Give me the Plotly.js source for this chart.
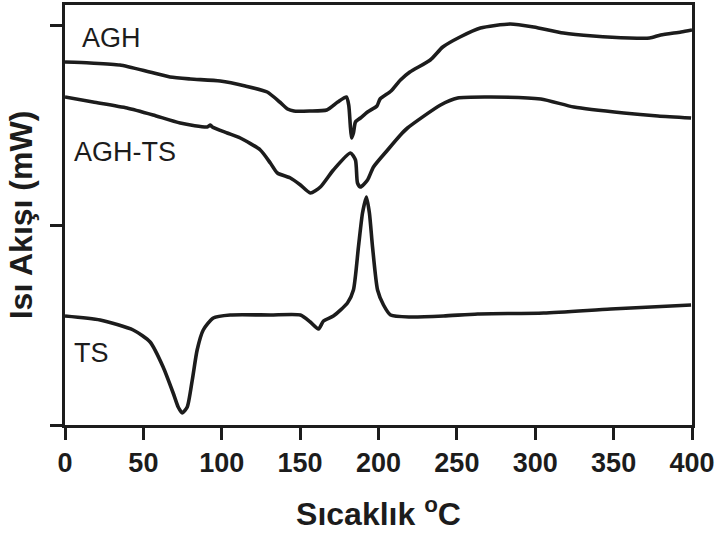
<!DOCTYPE html>
<html>
<head>
<meta charset="utf-8">
<script src="https://cdn.plot.ly/plotly-3.0.1.min.js"></script>
<style>html,body{margin:0;padding:0;background:#fff;}#chart{width:721px;height:538px;}</style>
</head>
<body>
<div id="chart"></div>
<script>
// AGH
const aghX = [0,16,35,54,67,80,99,115,129,137,142,146,156,167,174,179.5,181,182,182.8,184,185.3,188.5,193,199,201,208,214,220,233,241,252,265,284,299,318,337,360,373,380,393,400];
const aghY = [36.3,36.2,36.0,35.3,34.8,34.6,34.4,33.9,33.3,32.3,31.6,31.4,31.4,31.5,32.3,32.8,32.0,30.0,28.7,29.2,30.3,30.7,31.3,31.9,32.6,33.4,34.5,35.3,36.5,37.8,38.8,39.7,40.1,39.8,39.2,38.9,38.7,38.7,39.0,39.3,39.5];
// AGH-TS
const aghtsX = [0,17.9,39.6,56.2,73.5,90.7,92.7,94,103.5,111.8,124.6,131,135.5,143.8,150.2,156.5,162.9,171.2,182.1,185.3,186.6,188.5,193,196.8,205.8,214,218.5,239.6,250.5,271.6,303.5,324.6,356.5,378.3,399.4];
const aghtsY = [32.8,32.3,31.7,31.0,30.2,29.8,30.0,29.8,29.2,28.7,27.5,26.2,25.2,24.7,24.0,23.2,23.8,25.5,27.2,26.5,24.2,23.8,24.5,25.8,27.5,29.0,29.7,32.0,32.7,32.8,32.6,31.8,31.2,30.9,30.7];
// TS
const tsX = [0,22.4,43.5,54.3,62.6,69,72.2,74.8,78,81.2,84.3,88.2,94.6,105.4,131,150.2,156.5,161.7,164.9,171.2,180.2,184,187.2,189.8,192.3,194.2,196.2,199.4,203.2,207.7,220.4,241.5,263.3,305.4,348.2,399.4];
const tsY = [10.9,10.5,9.5,8.3,5.8,3.2,1.8,1.2,1.8,4.5,7.5,9.5,10.7,11.0,11.0,11.0,10.3,9.6,10.4,10.9,12.2,13.5,17.8,21.2,22.8,21.2,17.8,13.5,12.0,11.0,10.8,10.9,11.1,11.2,11.6,12.0];

const xTicks = [0,50,100,150,200,250,300,350,400];
const yTicks = [0,20,40];
const seriesLabels = ["AGH","AGH-TS","TS"];
const labelX = [9.6,4.4,4.4];
const labelY = [38.7,27.3,7.2];

const ink = '#1c1c1c';
const lineStyle = {color: ink, width: 3.6, shape: 'spline', smoothing: 0.6};

const traces = [
  {x: aghX, y: aghY, name: seriesLabels[0]},
  {x: aghtsX, y: aghtsY, name: seriesLabels[1]},
  {x: tsX, y: tsY, name: seriesLabels[2]}
].map(t => Object.assign(t, {type: 'scatter', mode: 'lines', line: lineStyle, hoverinfo: 'skip'}));

const annotations = seriesLabels.map((s, i) => ({
  x: labelX[i], y: labelY[i], xref: 'x', yref: 'y', text: s,
  showarrow: false, xanchor: 'left', yanchor: 'middle',
  font: {family: 'Liberation Sans, Arial, sans-serif', size: 27, color: ink}
}));

const layout = {
  width: 721, height: 538,
  margin: {l: 65, r: 29, t: 5, b: 113},
  paper_bgcolor: '#fff', plot_bgcolor: '#fff',
  showlegend: false,
  font: {family: 'Liberation Sans, Arial, sans-serif', color: ink},
  xaxis: {
    range: [0, 400], tickvals: xTicks, ticktext: xTicks.map(String),
    showline: true, mirror: true, linecolor: ink, linewidth: 3,
    ticks: 'outside', ticklen: 12, tickwidth: 3, tickcolor: ink,
    showgrid: false, zeroline: false,
    tickfont: {size: 27, color: ink, family: 'Liberation Sans, Arial, sans-serif', weight: 'bold'},
    title: {text: 'Sıcaklık <sup>o</sup>C', standoff: 26,
      font: {size: 32, color: ink, family: 'Liberation Sans, Arial, sans-serif', weight: 'bold'}}
  },
  yaxis: {
    range: [0, 42], tickvals: yTicks, showticklabels: false,
    showline: true, mirror: true, linecolor: ink, linewidth: 3,
    ticks: 'outside', ticklen: 12, tickwidth: 3, tickcolor: ink,
    showgrid: false, zeroline: false,
    title: {text: 'Isı Akışı (mW)', standoff: 8,
      font: {size: 32, color: ink, family: 'Liberation Sans, Arial, sans-serif', weight: 'bold'}}
  },
  annotations: annotations
};

Plotly.newPlot('chart', traces, layout, {staticPlot: true, displayModeBar: false});
</script>
</body>
</html>
